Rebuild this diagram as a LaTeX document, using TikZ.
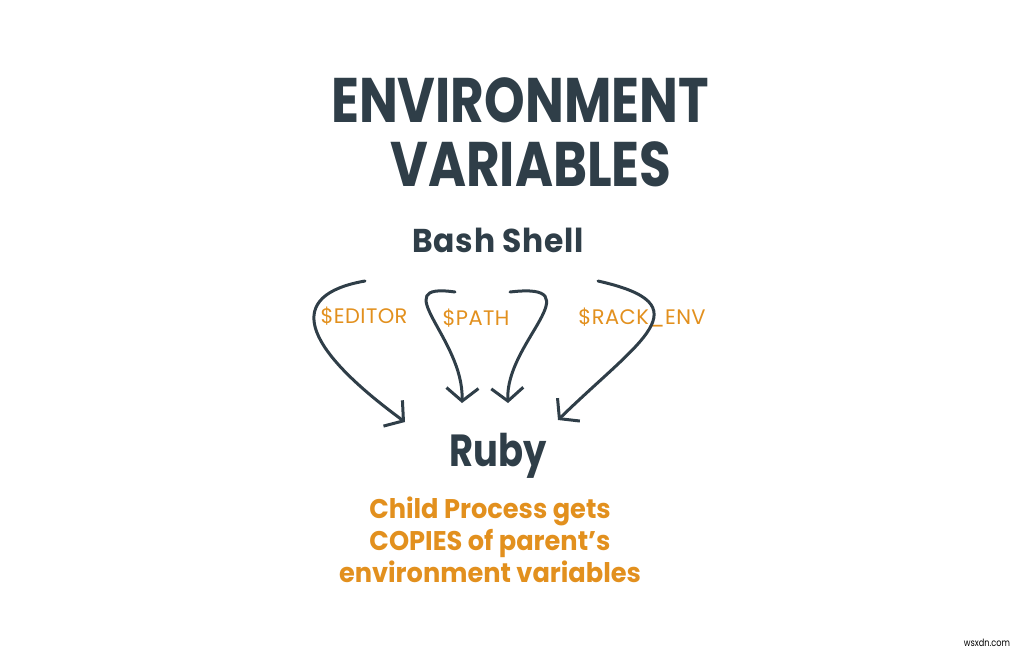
\documentclass[tikz,border=0pt]{standalone}
\usepackage{fontspec}
\setmainfont[FakeStretch=0.82]{Poppins}
\newfontfamily\widehand[FakeStretch=0.95,LetterSpace=2]{Poppins}
\newfontfamily\notehand[FakeStretch=0.95]{Poppins}
\newfontfamily\labelhand[FakeStretch=1.0,LetterSpace=2]{Poppins}
\usepackage{tikz}
\usetikzlibrary{arrows.meta}
\tikzset{>={Straight Barb[length=13pt,width=32pt,line width=3pt]}}
\definecolor{slate}{HTML}{2F3E48}
\definecolor{amber}{HTML}{E2901E}
\tikzset{
  heading/.style={text=slate,font=\bfseries\fontsize{63}{70}\selectfont},
  shellname/.style={text=slate,font=\widehand\bfseries\fontsize{33}{33}\selectfont},
  procname/.style={text=slate,font=\bfseries\fontsize{45}{45}\selectfont},
  varname/.style={text=amber,font=\labelhand\fontsize{21}{24}\selectfont},
  note/.style={text=amber,font=\notehand\bfseries\fontsize{27}{32}\selectfont,align=center},
  flow/.style={->,draw=slate,line width=3pt,line cap=round}
}

\begin{document}
\begin{tikzpicture}[x=1pt,y=-1pt]

  \useasboundingbox (0,0) rectangle (1024,653);

  \node[heading] (title1) at (520,100) {ENVIRONMENT};
  \node[heading] (title2) at (531,164) {VARIABLES};

  \node[shellname] (bash) at (498,240) {Bash Shell};
  \node[procname] (ruby) at (498,456) {Ruby};

  \node[varname] (editor) at (364,316) {\$EDITOR};
  \node[varname] (path) at (476,318) {\$PATH};
  \node[varname] (rack) at (642,318) {\$RACK\_ENV};

  \node[note] (copies) at (490,540)
  {Child Process gets\\COPIES of parent’s\\environment variables};

  \node[text=black,font=\fontsize{10}{12}\selectfont] (mark) at (987,643) {wsxdn.com};

  %% arrow ends
  \coordinate (e1) at (365,281);  \coordinate (t1) at (405,422);
  \coordinate (e2) at (455,292);  \coordinate (t2) at (462,403);
  \coordinate (e3) at (510,292);  \coordinate (t3) at (508,403);
  \coordinate (e4) at (598,281);  \coordinate (t4) at (558,420);

  \draw[flow] (e1) .. controls (285,295) and (300,345) .. (t1); %% editor
  \draw[flow] (e2) .. controls (385,282) and (464,338) .. (t2); %% path, left
  \draw[flow] (e3) .. controls (595,282) and (505,342) .. (t3); %% path, right
  \draw[flow] (e4) .. controls (705,305) and (640,340) .. (t4); %% rack_env

\end{tikzpicture}
\end{document}
